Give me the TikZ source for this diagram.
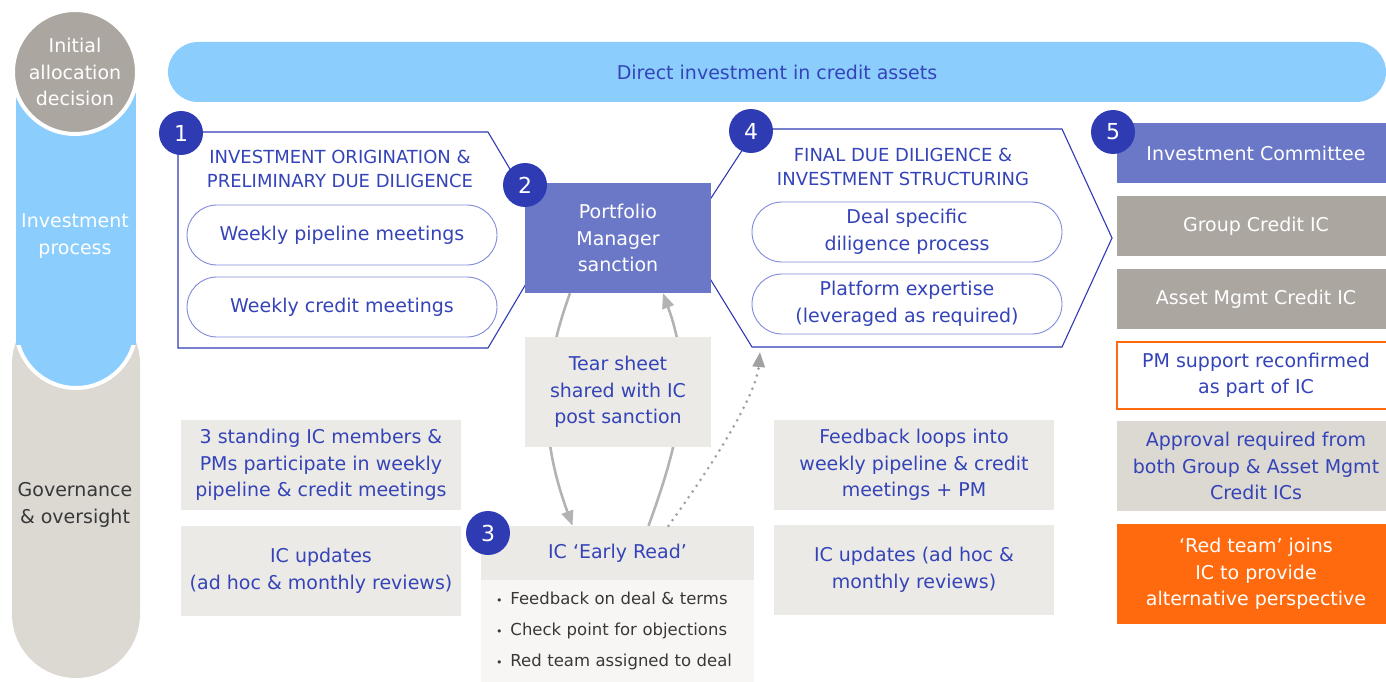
\documentclass[tikz,border=0pt]{standalone}
\usepackage{fontspec}
\setmainfont{DejaVu Sans}
\usetikzlibrary{arrows.meta}

\definecolor{navy}{HTML}{2E3BB3}
\definecolor{ink}{HTML}{3444B8}
\definecolor{sky}{HTML}{8BCEFE}
\definecolor{pmblue}{HTML}{6B78C8}
\definecolor{stone}{HTML}{ABA6A0}
\definecolor{sand}{HTML}{DCD8D2}
\definecolor{mist}{HTML}{ECEAE6}
\definecolor{paper}{HTML}{F7F6F4}
\definecolor{flame}{HTML}{FF6A0E}
\definecolor{ashgrey}{HTML}{B3B3B3}
\definecolor{pillline}{HTML}{7F8AD8}
\definecolor{dark}{HTML}{383838}

\begin{document}
\begin{tikzpicture}[x=1pt, y=-1pt, font=\fontsize{19}{26.5}\selectfont,
    box/.style={inner sep=0pt, align=center, text=ink},
    pill/.style={box, draw=pillline, line width=0.9pt, fill=white, rounded corners=30pt,
      minimum width=310pt, minimum height=60pt},
    tag/.style={box, minimum width=278pt},
    note/.style={box, fill=mist, minimum width=280pt, minimum height=90pt},
    caps/.style={box, font=\fontsize{18}{24.5}\selectfont},
    badge/.style={circle, fill=navy, text=white, minimum size=44pt, inner sep=0pt,
      font=\fontsize{22}{22}\selectfont},
    flow/.style={draw=ashgrey, line width=2.6pt, -{Triangle[length=15pt,width=12pt]}}]
  \useasboundingbox (0,0) rectangle (1386,682);
  \def\dot{{\fontsize{11}{11}\selectfont\textbullet}\hspace{8pt}}

  \fill[sand, rounded corners=64pt] (12,300) rectangle (140,678);
  \filldraw[fill=sky, draw=white, line width=4pt, rounded corners=60pt] (16,200) rectangle (136,388);
  \fill[sky] (16,74) rectangle (136,345);
  \filldraw[fill=stone, draw=white, line width=4pt] (75,72) circle (62pt);
  \node[box, text=white] (init) at (75,72) {Initial\\allocation\\decision};
  \node[box, text=white] (proc) at (75,236) {Investment\\process};
  \node[box, text=dark] (gov) at (75,505) {Governance\\\& oversight};

  \node[box, fill=sky, rounded corners=30pt, minimum width=1218pt, minimum height=60pt]
    (direct) at (777,72) {Direct investment in credit assets};

  \draw[navy, line width=1.1pt] (178,132) -- (488,132) -- (552,240) -- (488,348) -- (178,348) -- cycle;
  \node[caps] (orig) at (340,169) {INVESTMENT ORIGINATION \&\\PRELIMINARY DUE DILIGENCE};
  \node[pill] (pipe) at (342,235) {Weekly pipeline meetings};
  \node[pill] (cred) at (342,307) {Weekly credit meetings};

  \draw[navy, line width=1.1pt] (685,238) -- (756,129) -- (1062,129) -- (1112,238)
    -- (1062,347) -- (752,347) -- cycle;
  \node[caps] (final) at (903,167) {FINAL DUE DILIGENCE \&\\INVESTMENT STRUCTURING};
  \node[pill] (deal) at (907,232) {Deal specific\\diligence process};
  \node[pill] (plat) at (907,304) {Platform expertise\\(leveraged as required)};
  \coordinate (finalb) at (760,352);

  \node[box, fill=pmblue, text=white, minimum width=186pt, minimum height=110pt]
    (pm) at (618,238) {Portfolio\\Manager\\sanction};

  \node[box, fill=mist, minimum width=273pt, minimum height=54pt] (early) at (617.5,553)
    {IC ‘Early Read’};
  \node[box, fill=paper, text=dark, minimum width=273pt, minimum height=102pt, anchor=north,
    text width=243pt, align=left, font=\fontsize{16.5}{31}\selectfont] (checks) at (early.south)
    {\dot Feedback on deal \& terms\\\dot Check point for objections\\\dot Red team assigned to deal};

  \draw[flow] ([xshift=-48pt]pm.south) .. controls +(-31,85) and +(-31,-85) .. ([xshift=-45pt]early.north);
  \draw[flow] ([xshift=31pt]early.north) .. controls +(31,-85) and +(31,85) .. ([xshift=45pt]pm.south);
  \draw[flow, draw=ashgrey!90!black, line width=3pt, dash pattern=on 0pt off 7pt, line cap=round]
    ([xshift=51pt]early.north) .. controls +(40,-55) and +(-4,45) .. (finalb);

  \node[box, fill=mist, minimum width=186pt, minimum height=110pt] (tear) at (618,392)
    {Tear sheet\\shared with IC\\post sanction};

  \node[note] (members) at (321,465) {3 standing IC members \&\\PMs participate in weekly\\pipeline \& credit meetings};
  \node[note] (updl) at (321,571) {IC updates\\(ad hoc \& monthly reviews)};
  \node[note] (loops) at (914,465) {Feedback loops into\\weekly pipeline \& credit\\meetings + PM};
  \node[note] (updr) at (914,570) {IC updates (ad hoc \&\\monthly reviews)};

  \node[tag, fill=pmblue, text=white, minimum height=60pt] (comm) at (1256,153) {Investment Committee};
  \node[tag, fill=stone, text=white, minimum height=60pt] (group) at (1256,226) {Group Credit IC};
  \node[tag, fill=stone, text=white, minimum height=60pt] (asset) at (1256,299) {Asset Mgmt Credit IC};
  \node[tag, fill=white, draw=flame, line width=1.2pt, minimum height=67pt] (reconf) at (1256,375.5)
    {PM support reconfirmed\\as part of IC};
  \node[tag, fill=sand, minimum height=90pt] (approve) at (1256,466)
    {Approval required from\\both Group \& Asset Mgmt\\Credit ICs};
  \node[tag, fill=flame, text=white, minimum height=100pt] (red) at (1256,574)
    {‘Red team’ joins\\IC to provide\\alternative perspective};

  \node[badge] (n1) at (181,133) {1};
  \node[badge] (n2) at (525,185) {2};
  \node[badge] (n3) at (488,533) {3};
  \node[badge] (n4) at (751,131) {4};
  \node[badge] (n5) at (1113,132) {5};
\end{tikzpicture}
\end{document}
